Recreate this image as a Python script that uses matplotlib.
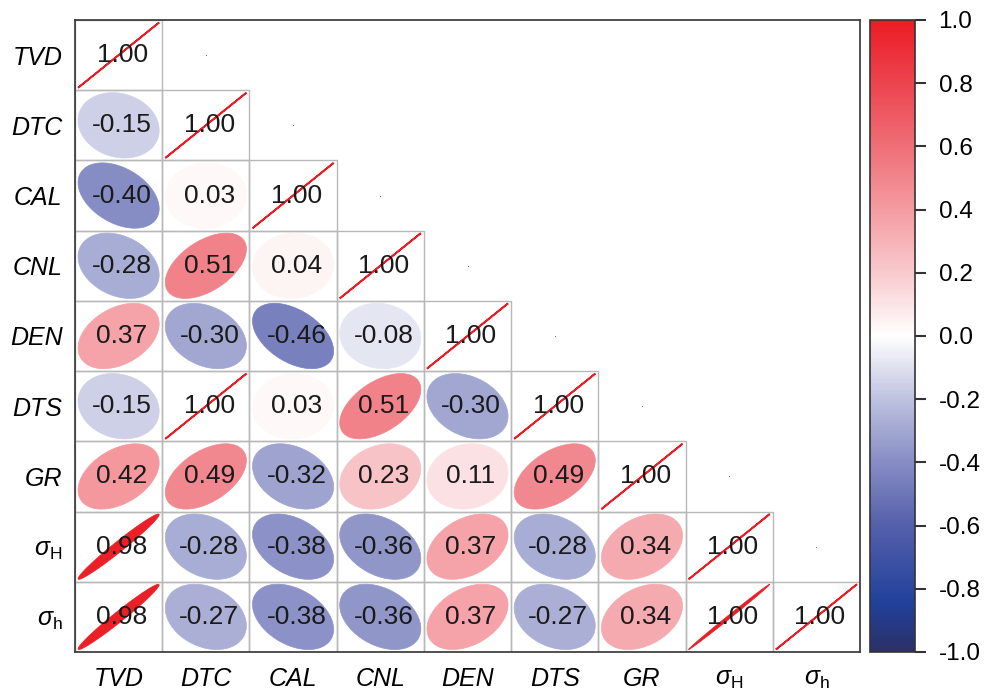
import numpy as np
import matplotlib
matplotlib.use('Agg')
import matplotlib.pyplot as plt
from matplotlib.patches import Polygon
from matplotlib.colors import LinearSegmentedColormap, Normalize
from matplotlib.cm import ScalarMappable

plt.rcParams['font.family'] = 'Liberation Sans'
plt.rcParams['mathtext.fontset'] = 'custom'
plt.rcParams['mathtext.rm'] = 'Liberation Sans'
plt.rcParams['mathtext.it'] = 'Liberation Sans:italic'

# variables and lower-triangle correlations (row by row)
names = ['TVD', 'DTC', 'CAL', 'CNL', 'DEN', 'DTS', 'GR',
         r'$\sigma_{\mathrm{H}}$', r'$\sigma_{\mathrm{h}}$']
rows = [
    [1.00],
    [-0.15, 1.00],
    [-0.40, 0.03, 1.00],
    [-0.28, 0.51, 0.04, 1.00],
    [0.37, -0.30, -0.46, -0.08, 1.00],
    [-0.15, 1.00, 0.03, 0.51, -0.30, 1.00],
    [0.42, 0.49, -0.32, 0.23, 0.11, 0.49, 1.00],
    [0.98, -0.28, -0.38, -0.36, 0.37, -0.28, 0.34, 1.00],
    [0.98, -0.27, -0.38, -0.36, 0.37, -0.27, 0.34, 0.998, 1.00],
]
cbar_ticks = [-1.0, -0.8, -0.6, -0.4, -0.2, 0.0, 0.2, 0.4, 0.6, 0.8, 1.0]
cbar_labels = ['-1.0', '-0.8', '-0.6', '-0.4', '-0.2', '0.0',
               '0.2', '0.4', '0.6', '0.8', '1.0']

cmap = LinearSegmentedColormap.from_list('corr', [
    (0.0, '#2c3067'), (0.075, '#21409b'), (0.2, '#5560ab'),
    (0.3, '#878dc4'), (0.4, '#bec2e0'), (0.5, '#ffffff'),
    (0.6, '#f8cacd'), (0.7, '#f49ca2'), (0.8, '#ef6f77'),
    (0.9, '#ec4550'), (1.0, '#ec1c24')])
norm = Normalize(-1, 1)

W, H = 986, 695
fig = plt.figure(figsize=(W / 100, H / 100), dpi=100)
ax = fig.add_axes([75 / W, 43 / H, 785 / W, 632 / H])
n = len(names)
ax.set_xlim(0, n)
ax.set_ylim(n, 0)

t = np.linspace(0, 2 * np.pi, 200)
for i, row in enumerate(rows):
    for j, r in enumerate(row):
        # cell border
        ax.plot([j, j + 1, j + 1, j, j], [i, i, i + 1, i + 1, i],
                color='#b8b8b8', lw=1, zorder=1)
        d = np.arccos(np.clip(r, -1, 1))
        ex = np.cos(t + d / 2) * 0.465
        ey = np.cos(t - d / 2) * 0.465
        c = cmap(norm(r))
        lw = 1.3 if r >= 0.999 else 0.5
        ax.add_patch(Polygon(np.column_stack([j + 0.5 + ex, i + 0.5 - ey]),
                             closed=True, fc=c, ec=c, lw=lw, zorder=2))
        ax.text(j + 0.54, i + 0.5, '%.2f' % r, ha='center', va='center',
                fontsize=19, color='#1a1a1a', zorder=3)
    if i < n - 1:
        ax.plot(i + 1.5, i + 0.5, marker='s', ms=0.6, mew=0, color='#666666', zorder=3)

ax.set_xticks(np.arange(n) + 0.5)
ax.set_xticklabels(names, fontsize=18, style='italic')
ax.set_yticks(np.arange(n) + 0.5)
ax.set_yticklabels(names, fontsize=18, style='italic')
ax.tick_params(length=0)
ax.tick_params(axis='x', pad=11)
ax.tick_params(axis='y', pad=9)
for s in ax.spines.values():
    s.set_color('#333333')
    s.set_linewidth(1.2)

cax = fig.add_axes([870 / W, 43 / H, 45 / W, 632 / H])
cb = fig.colorbar(ScalarMappable(norm=norm, cmap=cmap), cax=cax, ticks=cbar_ticks)
cb.set_ticklabels(cbar_labels)
cb.outline.set_edgecolor('#333333')
cb.outline.set_linewidth(1.2)
cax.tick_params(length=8, width=1.5, labelsize=17.5, pad=9, color='#333333')

fig.savefig('out.png', dpi=100)
